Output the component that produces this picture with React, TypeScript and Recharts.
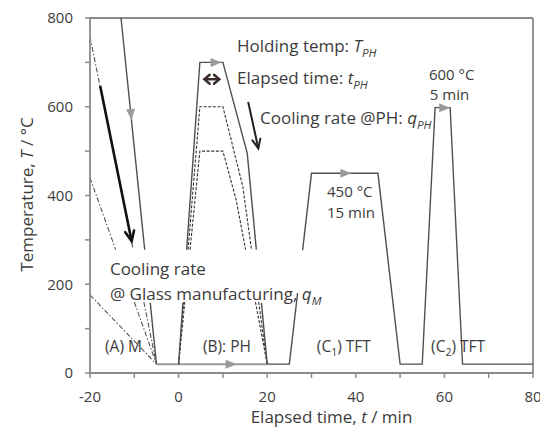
import React from 'react';
import { LineChart, Line, XAxis, YAxis, ReferenceDot, ReferenceLine } from 'recharts';

const FONT = '"Open Sans", "Noto Sans", sans-serif';
const TXT = '#3c3c3c';
const AX = '#8a8a8a';
const LN = '#505050';

// axis ticks
const tickX = [-20, -10, 0, 10, 20, 30, 40, 50, 60, 70, 80];
const tickY = [0, 100, 200, 300, 400, 500, 600, 700, 800];

// (A) glass manufacturing cooling
const mfgSolid = [
  { t: -13, T: 800 }, { t: -7.65, T: 278 }, { t: -7, T: null }, { t: -6.4, T: 158 }, { t: -5, T: 20 },
];
const mfgDashA = [
  { t: -20, T: 758 }, { t: -10.25, T: 278 }, { t: -9, T: null }, { t: -7.85, T: 160 }, { t: -5, T: 20 },
];
const mfgDashB = [
  { t: -20, T: 440 }, { t: -14.2, T: 278 }, { t: -12, T: null }, { t: -10, T: 160 }, { t: -5, T: 20 },
];
const mfgDashC = [{ t: -20, T: 176 }, { t: -5, T: 20 }];
const baseGray = [{ t: -5, T: 20 }, { t: 20, T: 20 }];

// (B) pre-heating
const phSolid = [
  { t: 0, T: 20 }, { t: 0.97, T: 158 }, { t: 1.4, T: null }, { t: 1.82, T: 278 }, { t: 4.8, T: 700 },
  { t: 10, T: 700 }, { t: 15.5, T: 495 }, { t: 17.55, T: 278 }, { t: 18.1, T: null }, { t: 18.7, T: 158 },
  { t: 20, T: 20 },
];
const ph600 = [
  { t: 0, T: 20 }, { t: 1.16, T: 160 }, { t: 1.6, T: null }, { t: 2.14, T: 278 }, { t: 4.8, T: 600 },
  { t: 10, T: 600 }, { t: 14.5, T: 420 }, { t: 16.45, T: 278 }, { t: 17.2, T: null }, { t: 18.08, T: 160 },
  { t: 20, T: 20 },
];
const ph500 = [
  { t: 0, T: 20 }, { t: 1.4, T: 160 }, { t: 2, T: null }, { t: 2.58, T: 278 }, { t: 4.8, T: 500 },
  { t: 10, T: 500 }, { t: 13, T: 390 }, { t: 15.12, T: 278 }, { t: 16.2, T: null }, { t: 17.35, T: 160 },
  { t: 20, T: 20 },
];

// (C1), (C2) TFT
const tftLine = [
  { t: 20, T: 20 }, { t: 25, T: 20 }, { t: 26.86, T: 180 }, { t: 27.4, T: null }, { t: 28, T: 277 },
  { t: 30, T: 450 }, { t: 45, T: 450 }, { t: 50, T: 20 }, { t: 55, T: 20 }, { t: 57.9, T: 598 },
  { t: 61.3, T: 598 }, { t: 64.1, T: 20 }, { t: 80, T: 20 },
];

// black annotation arrows
const arrowM = [{ t: -17.7, T: 647 }, { t: -10.6, T: 297 }];
const arrowPH = [{ t: 15.7, T: 611 }, { t: 18, T: 506 }];
const arrowHold = [{ t: 5.8, T: 662 }, { t: 9.2, T: 662 }];

// grey direction arrowheads: tip position and direction (dt, dT)
const flowMarks = [
  { t: -10.6, T: 570, dt: 8, dT: -780 },
  { t: 9.7, T: 700, dt: 1, dT: 0 },
  { t: 13.1, T: 20, dt: 1, dT: 0 },
  { t: 39, T: 450, dt: 1, dT: 0 },
  { t: 61.3, T: 598, dt: 1, dT: 0 },
];

type Part = { s: string; it?: boolean; sub?: boolean };
const notesBig: { t: number; T: number; parts: Part[] }[] = [
  { t: 13.2, T: 723, parts: [{ s: 'Holding temp: ' }, { s: 'T', it: true }, { s: 'PH', it: true, sub: true }] },
  { t: 13.2, T: 651, parts: [{ s: 'Elapsed time: ' }, { s: 't', it: true }, { s: 'PH', it: true, sub: true }] },
  { t: 18.4, T: 561, parts: [{ s: 'Cooling rate @PH: ' }, { s: 'q', it: true }, { s: 'PH', it: true, sub: true }] },
  { t: -15.5, T: 221, parts: [{ s: 'Cooling rate' }] },
  { t: -15.5, T: 165, parts: [{ s: '@ Glass manufacturing, ' }, { s: 'q', it: true }, { s: 'M', it: true, sub: true }] },
];
const notesMid: { t: number; T: number; parts: Part[] }[] = [
  { t: 56.5, T: 661, parts: [{ s: '600 °C' }] },
  { t: 56.7, T: 615, parts: [{ s: '5 min' }] },
  { t: 33.5, T: 397, parts: [{ s: '450 °C' }] },
  { t: 33.5, T: 349, parts: [{ s: '15 min' }] },
];
const notesSmall: { t: number; T: number; parts: Part[] }[] = [
  { t: -16.6, T: 47, parts: [{ s: '(A) M' }] },
  { t: 5.5, T: 47, parts: [{ s: '(B): PH' }] },
  { t: 31.2, T: 47, parts: [{ s: '(C' }, { s: '1', sub: true }, { s: ') TFT' }] },
  { t: 57, T: 47, parts: [{ s: '(C' }, { s: '2', sub: true }, { s: ') TFT' }] },
];

const W = 540;
const H = 427;
const M = { top: 10, right: 15, bottom: 0, left: 0 };
const YW = 82;
const XH = 62;
const KX = (W - M.left - M.right - YW) / 100;
const KY = (H - M.top - M.bottom - XH) / 800;

function renderParts(parts: Part[], size: number) {
  const out: React.ReactNode[] = [];
  let shifted = false;
  parts.forEach((p, i) => {
    let dy = 0;
    if (p.sub && !shifted) { dy = size * 0.28; shifted = true; }
    else if (!p.sub && shifted) { dy = -size * 0.28; shifted = false; }
    out.push(
      <tspan key={i} dy={dy || undefined} fontStyle={p.it ? 'italic' : undefined}
        fontSize={p.sub ? size * 0.68 : undefined}>{p.s}</tspan>
    );
  });
  return out;
}

const noteShape = (parts: Part[], size: number) => (p: any) => (
  <text x={p.cx} y={p.cy} fontFamily={FONT} fontSize={size} fill={TXT}>
    {renderParts(parts, size)}
  </text>
);

const flowShape = (dt: number, dT: number) => (p: any) => {
  const a = Math.atan2(-dT * KY, dt * KX);
  const len = 11;
  const hw = 4.5;
  const { cx, cy } = p;
  const bx = cx - len * Math.cos(a);
  const by = cy - len * Math.sin(a);
  const nx = -Math.sin(a) * hw;
  const ny = Math.cos(a) * hw;
  return <path d={`M${cx},${cy}L${bx + nx},${by + ny}L${bx - nx},${by - ny}Z`} fill="#9a9a9a" stroke="none" />;
};

function arrowDot(series: { t: number; T: number }[], both: boolean, color: string, sw: number, len: number, spread: number) {
  return (p: any) => {
    const { cx, cy, index } = p;
    const n = series.length;
    let j = -1;
    if (index === n - 1) j = n - 2;
    else if (both && index === 0) j = 1;
    if (j < 0 || cx == null) return <g key={`d${index}`} />;
    const a = Math.atan2(-(series[index].T - series[j].T) * KY, (series[index].t - series[j].t) * KX);
    const s = (spread * Math.PI) / 180;
    const x1 = cx - len * Math.cos(a + s);
    const y1 = cy - len * Math.sin(a + s);
    const x2 = cx - len * Math.cos(a - s);
    const y2 = cy - len * Math.sin(a - s);
    return (
      <path key={`d${index}`} d={`M${x1},${y1}L${cx},${cy}L${x2},${y2}`} fill="none" stroke={color}
        strokeWidth={sw} strokeLinejoin="miter" strokeLinecap="round" />
    );
  };
}

const XTitle = (props: any) => {
  const vb = props.viewBox || { x: YW, y: H - XH, width: 443 };
  return (
    <text x={vb.x + 241.5} y={vb.y + 50} textAnchor="middle" fontFamily={FONT} fontSize={17} fill={TXT}>
      <tspan>Elapsed time, </tspan><tspan fontStyle="italic">t</tspan><tspan> / min</tspan>
    </text>
  );
};

const YTitle = (props: any) => {
  const vb = props.viewBox || { x: 0, y: M.top, height: 355 };
  const x = vb.x + 25;
  const y = vb.y + vb.height / 2 - 1;
  return (
    <text x={x} y={y} transform={`rotate(-90, ${x}, ${y})`} textAnchor="middle" fontFamily={FONT} fontSize={17} fill={TXT}>
      <tspan>Temperature, </tspan><tspan fontStyle="italic">T</tspan><tspan> / °C</tspan>
    </text>
  );
};

const dashDot = '5 2 1.5 2';
const dashed = '3 1.6';

export default function App() {
  return (
    <LineChart width={W} height={H} margin={M}>
      <XAxis type="number" dataKey="t" domain={[-20, 80]} ticks={tickX} interval={0} allowDataOverflow
        tickFormatter={(v: number) => (v % 20 === 0 ? String(v) : '')}
        tickSize={5} tickMargin={13} height={XH}
        axisLine={{ stroke: AX, strokeWidth: 1.8 }} tickLine={{ stroke: AX, strokeWidth: 1.5 }}
        tick={{ fill: TXT, fontSize: 15, fontFamily: FONT }} label={<XTitle />} />
      <YAxis type="number" domain={[0, 800]} ticks={tickY} interval={0} allowDataOverflow width={YW}
        tickFormatter={(v: number) => (v % 200 === 0 ? String(v) : '')}
        tickSize={5} tickMargin={12}
        axisLine={{ stroke: AX, strokeWidth: 1.8 }} tickLine={{ stroke: AX, strokeWidth: 1.5 }}
        tick={{ fill: TXT, fontSize: 15, fontFamily: FONT }} label={<YTitle />} />
      <ReferenceLine y={800} stroke={AX} strokeWidth={1.8} />
      <ReferenceLine x={80} stroke={AX} strokeWidth={1.8} />

      <Line data={mfgDashA} dataKey="T" stroke="#555" strokeWidth={1.1} strokeDasharray={dashDot} dot={false} activeDot={false} isAnimationActive={false} />
      <Line data={mfgDashB} dataKey="T" stroke="#555" strokeWidth={1.1} strokeDasharray={dashDot} dot={false} activeDot={false} isAnimationActive={false} />
      <Line data={mfgDashC} dataKey="T" stroke="#555" strokeWidth={1.1} strokeDasharray={dashDot} dot={false} activeDot={false} isAnimationActive={false} />
      <Line data={mfgSolid} dataKey="T" stroke={LN} strokeWidth={1.4} dot={false} activeDot={false} isAnimationActive={false} />
      <Line data={baseGray} dataKey="T" stroke="#9a9a9a" strokeWidth={2} dot={false} activeDot={false} isAnimationActive={false} />
      <Line data={ph600} dataKey="T" stroke="#333" strokeWidth={1.1} strokeDasharray={dashed} dot={false} activeDot={false} isAnimationActive={false} />
      <Line data={ph500} dataKey="T" stroke="#333" strokeWidth={1.1} strokeDasharray={dashed} dot={false} activeDot={false} isAnimationActive={false} />
      <Line data={phSolid} dataKey="T" stroke={LN} strokeWidth={1.4} dot={false} activeDot={false} isAnimationActive={false} />
      <Line data={tftLine} dataKey="T" stroke={LN} strokeWidth={1.4} dot={false} activeDot={false} isAnimationActive={false} />

      <Line data={arrowM} dataKey="T" stroke="#111" strokeWidth={2.6} isAnimationActive={false} activeDot={false}
        dot={arrowDot(arrowM, false, '#111', 2.6, 11, 24)} />
      <Line data={arrowPH} dataKey="T" stroke="#222" strokeWidth={2} isAnimationActive={false} activeDot={false}
        dot={arrowDot(arrowPH, false, '#222', 2, 10, 24)} />
      <Line data={arrowHold} dataKey="T" stroke="#3a2a2a" strokeWidth={2.4} isAnimationActive={false} activeDot={false}
        dot={arrowDot(arrowHold, true, '#3a2a2a', 2.4, 7, 40)} />

      {flowMarks.map((f, i) => (
        <ReferenceDot key={`f${i}`} x={f.t} y={f.T} r={1} shape={flowShape(f.dt, f.dT)} />
      ))}
      {notesBig.map((n, i) => (
        <ReferenceDot key={`nb${i}`} x={n.t} y={n.T} r={1} shape={noteShape(n.parts, 17)} />
      ))}
      {notesMid.map((n, i) => (
        <ReferenceDot key={`nm${i}`} x={n.t} y={n.T} r={1} shape={noteShape(n.parts, 15)} />
      ))}
      {notesSmall.map((n, i) => (
        <ReferenceDot key={`ns${i}`} x={n.t} y={n.T} r={1} shape={noteShape(n.parts, 15.5)} />
      ))}
    </LineChart>
  );
}
